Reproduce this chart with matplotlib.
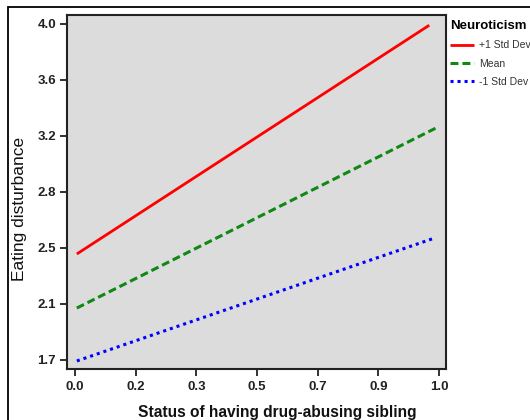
import matplotlib
matplotlib.use("Agg")
import matplotlib.pyplot as plt
from matplotlib.patches import Rectangle

# Simple slopes
sibling_x = [[0.005, 0.973], [0.005, 0.99], [0.005, 0.99]]
plus_sd = [2.425, 3.99]
mean_line = [2.055, 3.285]
minus_sd = [1.693, 2.536]
series_names = ["+1 Std Dev", "Mean", "-1 Std Dev"]

y_ticks = [1.7 + k * 2.3 / 6 for k in range(7)]
y_labels = ["1.7", "2.1", "2.5", "2.8", "3.2", "3.6", "4.0"]
x_ticks = [k / 6 for k in range(7)]
x_labels = ["0.0", "0.2", "0.3", "0.5", "0.7", "0.9", "1.0"]

plt.rcParams["font.family"] = ["Liberation Sans", "DejaVu Sans"]

fig = plt.figure(figsize=(5.3, 4.2), dpi=100)

# outer border, cut off at right and bottom like the screenshot
fig.patches.append(Rectangle((8 / 530, -0.1), 1.2, 1 - 7 / 420 + 0.1,
                             transform=fig.transFigure, fill=False,
                             edgecolor="black", linewidth=1.3))

ax = fig.add_axes([67 / 530, 1 - 369 / 420, 379 / 530, 354 / 420])
ax.set_facecolor("#dcdcdc")

ax.plot(sibling_x[0], plus_sd, color="#ff0000", lw=2.0, solid_capstyle="butt",
        label=series_names[0])
ax.plot(sibling_x[1], mean_line, color="#118811", lw=2.2, linestyle=(0, (2.6, 1.3)),
        label=series_names[1])
ax.plot(sibling_x[2], minus_sd, color="#0000ff", lw=2.2, linestyle=(0, (1, 1.3)),
        label=series_names[2])

ax.set_xlim(-0.022, 1.019)
ax.set_ylim(1.638, 4.06)
ax.set_xticks(x_ticks)
ax.set_xticklabels(x_labels)
ax.set_yticks(y_ticks)
ax.set_yticklabels(y_labels)

for sp in ax.spines.values():
    sp.set_linewidth(1.5)
    sp.set_color("#222222")

ax.tick_params(direction="out", length=5, width=1.3, color="#222222",
               labelsize=9.5, labelcolor="#222222")
ax.tick_params(axis="y", pad=3)
ax.tick_params(axis="x", pad=4)
for lab in ax.get_xticklabels() + ax.get_yticklabels():
    lab.set_fontweight("bold")

ax.set_xlabel("Status of having drug-abusing sibling", fontsize=11.2,
              fontweight="bold", color="#111111")
ax.xaxis.set_label_coords((277 - 67) / 379, -(412 - 369) / 354)
ax.xaxis.label.set_va("center")
ax.set_ylabel("Eating disturbance", fontsize=12.5, color="#111111")
ax.yaxis.set_label_coords((19.5 - 67) / 379, 1 - (209 - 15) / 354)
ax.yaxis.label.set_va("center")

leg = ax.legend(loc="upper left", bbox_to_anchor=(448 / 530, 1 - 18 / 420),
                bbox_transform=fig.transFigure, frameon=False,
                title="Neuroticism", fontsize=7.5, handlelength=2.3,
                handletextpad=0.5, labelspacing=0.8, borderaxespad=0,
                borderpad=0.2, alignment="left")
leg.get_title().set_fontweight("bold")
leg.get_title().set_fontsize(9.5)
for t in leg.get_texts():
    t.set_color("#333333")

fig.savefig("out.png", dpi=100)
